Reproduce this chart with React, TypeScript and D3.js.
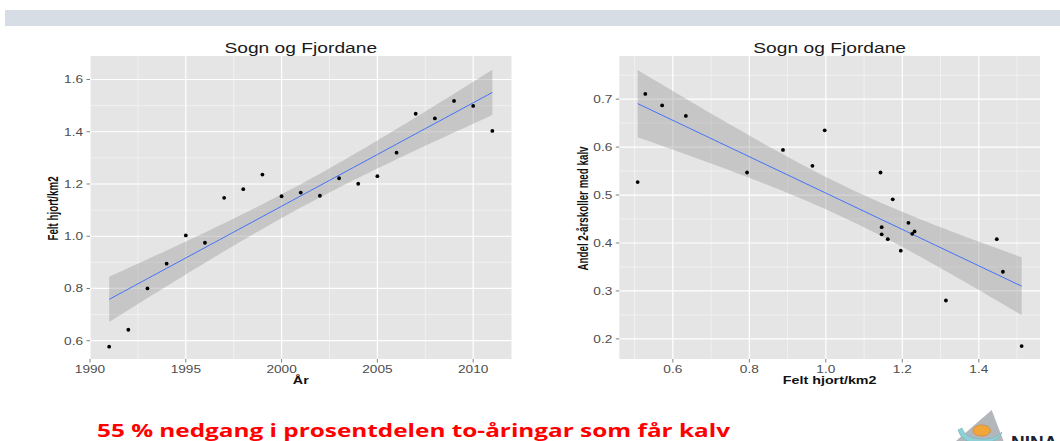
import * as d3 from 'd3';

// Left chart: felt hjort per km2 by year
const years = [1991, 1992, 1993, 1994, 1995, 1996, 1997, 1998, 1999, 2000, 2001, 2002, 2003, 2004, 2005, 2006, 2007, 2008, 2009, 2010, 2011];
const feltPerYear = [0.577, 0.642, 0.8, 0.895, 1.003, 0.975, 1.147, 1.18, 1.236, 1.153, 1.167, 1.155, 1.222, 1.201, 1.23, 1.32, 1.469, 1.451, 1.518, 1.499, 1.403];

// Right chart: share of 2-year-old hinds with calf vs felt hjort/km2
const feltHjort = [0.508, 0.528, 0.572, 0.634, 0.794, 0.888, 0.965, 0.997, 1.143, 1.175, 1.146, 1.146, 1.162, 1.216, 1.232, 1.226, 1.447, 1.196, 1.463, 1.314, 1.512];
const andelKalv = [0.527, 0.711, 0.687, 0.665, 0.547, 0.594, 0.561, 0.635, 0.547, 0.491, 0.433, 0.418, 0.408, 0.442, 0.424, 0.419, 0.408, 0.384, 0.34, 0.28, 0.185];

const leftXTicks = [1990, 1995, 2000, 2005, 2010];
const leftXMinor = [1992.5, 1997.5, 2002.5, 2007.5];
const leftYTicks = [0.6, 0.8, 1.0, 1.2, 1.4, 1.6];
const leftYMinor = [0.7, 0.9, 1.1, 1.3, 1.5];
const rightXTicks = [0.6, 0.8, 1.0, 1.2, 1.4];
const rightXMinor = [0.5, 0.7, 0.9, 1.1, 1.3, 1.5];
const rightYTicks = [0.2, 0.3, 0.4, 0.5, 0.6, 0.7];
const rightYMinor = [0.25, 0.35, 0.45, 0.55, 0.65, 0.75];

const title = 'Sogn og Fjordane';
const caption = '55 % nedgang i prosentdelen to-åringar som får kalv';

const FONT = '"Liberation Sans", Arial, sans-serif';
const SX = 1.3; // the slide is stretched sideways
const T_975_DF19 = 2.093;

function lmBand(xs: number[], ys: number[], n = 80) {
  const mx = d3.mean(xs) as number;
  const my = d3.mean(ys) as number;
  const sxx = d3.sum(xs, x => (x - mx) ** 2);
  const sxy = d3.sum(xs.map((x, i) => (x - mx) * (ys[i] - my)));
  const b = sxy / sxx;
  const a = my - b * mx;
  const rss = d3.sum(xs.map((x, i) => (ys[i] - a - b * x) ** 2));
  const s = Math.sqrt(rss / (xs.length - 2));
  const [x0, x1] = d3.extent(xs) as [number, number];
  return d3.range(n + 1).map(i => {
    const x = x0 + ((x1 - x0) * i) / n;
    const fit = a + b * x;
    const se = s * Math.sqrt(1 / xs.length + (x - mx) ** 2 / sxx);
    return { x, fit, lo: fit - T_975_DF19 * se, hi: fit + T_975_DF19 * se };
  });
}

type PanelProps = {
  xs: number[];
  ys: number[];
  xDomain: [number, number];
  yDomain: [number, number];
  left: number;
  right: number;
  xTicks: number[];
  xMinor: number[];
  yTicks: number[];
  yMinor: number[];
  xFormat: (v: number) => string;
  xLabel: string;
  yLabel: string;
  yLabelX: number;
};

const top = 56;
const bottom = 359;

function Panel(p: PanelProps) {
  const x = d3.scaleLinear().domain(p.xDomain).range([p.left, p.right]);
  const y = d3.scaleLinear().domain(p.yDomain).range([bottom, top]);
  const band = lmBand(p.xs, p.ys);
  const area = d3.area<any>().x(d => x(d.x)).y0(d => y(d.lo)).y1(d => y(d.hi));
  const line = d3.line<any>().x(d => x(d.x)).y(d => y(d.fit));
  const fy = d3.format('.1f');
  const cx = (p.left + p.right) / 2;

  return (
    <g>
      <rect x={p.left} y={top} width={p.right - p.left} height={bottom - top} fill="#e5e5e5" />
      {p.xMinor.map(v => (
        <line key={'xm' + v} x1={x(v)} x2={x(v)} y1={top} y2={bottom} stroke="#f4f4f4" strokeWidth={0.8} />
      ))}
      {p.yMinor.map(v => (
        <line key={'ym' + v} x1={p.left} x2={p.right} y1={y(v)} y2={y(v)} stroke="#f4f4f4" strokeWidth={0.8} />
      ))}
      {p.xTicks.map(v => (
        <line key={'xM' + v} x1={x(v)} x2={x(v)} y1={top} y2={bottom} stroke="#ffffff" strokeWidth={1.2} />
      ))}
      {p.yTicks.map(v => (
        <line key={'yM' + v} x1={p.left} x2={p.right} y1={y(v)} y2={y(v)} stroke="#ffffff" strokeWidth={1.2} />
      ))}
      <path d={area(band) as string} fill="#999999" fillOpacity={0.4} />
      <path d={line(band) as string} fill="none" stroke="#3366ff" strokeWidth={0.9} />
      {p.xs.map((v, i) => (
        <circle key={'pt' + i} cx={x(v)} cy={y(p.ys[i])} r={1.9} fill="#000" />
      ))}
      <text
        transform={`translate(${cx},52.5) scale(${SX * 1.02},1)`}
        textAnchor="middle"
        fontFamily={FONT}
        fontSize={14.5}
        fill="#1a1a1a"
      >
        {title}
      </text>
      {/* axes */}
      {p.xTicks.map(v => (
        <g key={'xt' + v}>
          <line x1={x(v)} x2={x(v)} y1={bottom} y2={bottom + 3.5} stroke="#7f7f7f" />
          <text
            transform={`translate(${x(v)},${bottom + 14}) scale(${SX},1)`}
            textAnchor="middle"
            fontFamily={FONT}
            fontSize={10.5}
            fill="#4d4d4d"
          >
            {p.xFormat(v)}
          </text>
        </g>
      ))}
      {p.yTicks.map(v => (
        <g key={'yt' + v}>
          <line x1={p.left - 3.5} x2={p.left} y1={y(v)} y2={y(v)} stroke="#7f7f7f" />
          <text
            transform={`translate(${p.left - 7},${y(v) + 3.8}) scale(${SX},1)`}
            textAnchor="end"
            fontFamily={FONT}
            fontSize={10.5}
            fill="#4d4d4d"
          >
            {fy(v)}
          </text>
        </g>
      ))}
      <text
        transform={`translate(${cx},384) scale(${SX},1)`}
        textAnchor="middle"
        fontFamily={FONT}
        fontWeight="bold"
        fontSize={11}
        fill="#111"
      >
        {p.xLabel}
      </text>
      <text
        transform={`translate(${p.yLabelX},${(top + bottom) / 2 + 1}) scale(1.5,1) rotate(-90)`}
        textAnchor="middle"
        fontFamily={FONT}
        fontWeight="bold"
        fontSize={9.8}
        fill="#111"
      >
        {p.yLabel}
      </text>
    </g>
  );
}

export default function App() {
  return (
    <svg
      width={1060}
      height={441}
      style={{ position: 'absolute', left: 0, top: 0, background: '#fff', display: 'block' }}
    >
      <rect x={5} y={10} width={1055} height={16} fill="#d6dde4" />
      <Panel
        xs={years}
        ys={feltPerYear}
        xDomain={[1990, 2012]}
        yDomain={[0.53, 1.69]}
        left={90}
        right={511.5}
        xTicks={leftXTicks}
        xMinor={leftXMinor}
        yTicks={leftYTicks}
        yMinor={leftYMinor}
        xFormat={v => String(v)}
        xLabel="År"
        yLabel="Felt hjort/km2"
        yLabelX={58}
      />
      <Panel
        xs={feltHjort}
        ys={andelKalv}
        xDomain={[0.46, 1.56]}
        yDomain={[0.158, 0.79]}
        left={619.3}
        right={1040}
        xTicks={rightXTicks}
        xMinor={rightXMinor}
        yTicks={rightYTicks}
        yMinor={rightYMinor}
        xFormat={d3.format('.1f')}
        xLabel="Felt hjort/km2"
        yLabel="Andel 2-årskoller med kalv"
        yLabelX={588}
      />
      <text
        x={97}
        y={437}
        textLength={633}
        lengthAdjust="spacingAndGlyphs"
        fontFamily='"Open Sans", Calibri, sans-serif'
        fontWeight="bold"
        fontSize={18}
        fill="#ff0000"
      >
        {caption}
      </text>
      {/* partial NINA logo in the corner */}
      <g>
        <path d="M991.7,410 L1003.5,441 L956,441 Z" fill="#b3b7bb" />
        <path d="M958,430 Q962,445 985,443 Q1000,441 1002,432 Q995,440 980,439 Q965,438 962,428 Z" fill="#8fd0d6" stroke="#6fb3ba" strokeWidth={0.6} />
        <ellipse cx={981.7} cy={430.5} rx={8.8} ry={5.6} fill="#f2a63a" stroke="#c98526" strokeWidth={0.6} />
        <text x={1011} y={449} fontFamily={FONT} fontWeight="bold" fontSize={19} fill="#1d2230">
          NINA
        </text>
      </g>
    </svg>
  );
}
